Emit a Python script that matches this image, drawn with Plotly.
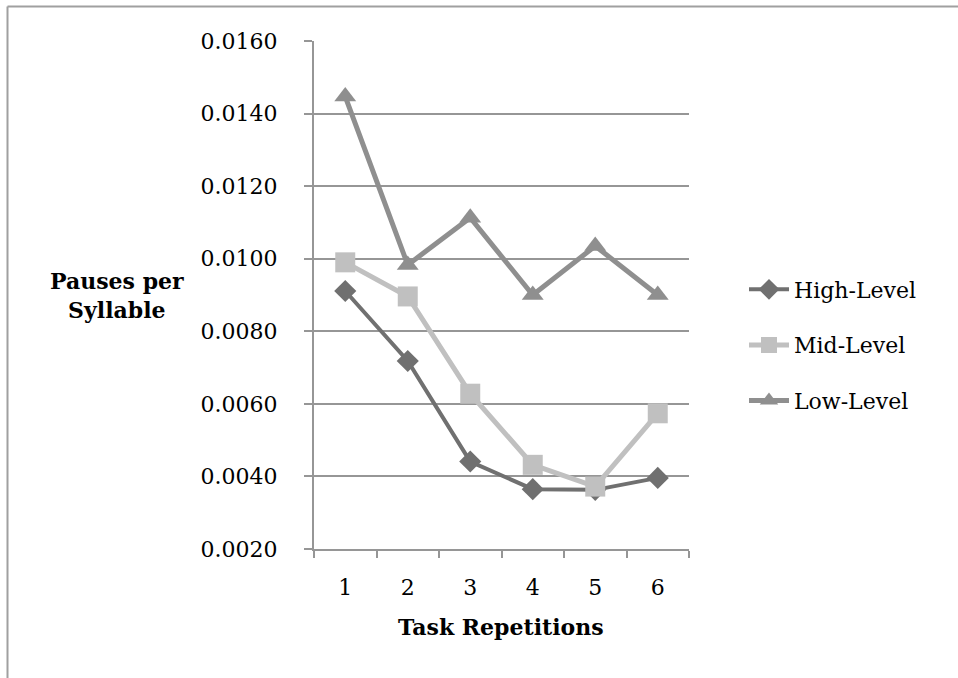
import plotly.graph_objects as go

# Task repetition categories and pause rates per proficiency group
repetitions = ["1", "2", "3", "4", "5", "6"]
high_level = [0.00911, 0.00718, 0.00441, 0.00365, 0.00363, 0.00396]
mid_level = [0.00990, 0.00896, 0.00628, 0.00432, 0.00372, 0.00574]
low_level = [0.01447, 0.00983, 0.01113, 0.00900, 0.01035, 0.00900]
y_ticks = [0.002, 0.004, 0.006, 0.008, 0.010, 0.012, 0.014, 0.016]

W, H = 958, 678
FONT = "DejaVu Serif"

# plot area in pixels
px_left, px_right, px_top, px_bottom = 314, 689, 41, 549

fig = go.Figure()

series = [
    ("High-Level", high_level, "#707070", "diamond", 17, 4),
    ("Mid-Level", mid_level, "#c0c0c0", "square", 20, 5),
    ("Low-Level", low_level, "#8f8f8f", "triangle-up", 19, 5),
]
for name, vals, color, symbol, msize, lw in series:
    fig.add_trace(go.Scatter(
        x=repetitions, y=vals, name=name, mode="lines+markers",
        line=dict(color=color, width=lw),
        marker=dict(symbol=symbol, size=msize, color=color, line=dict(width=0)),
        legendgroup=name,
    ))

fig.update_layout(
    width=W, height=H,
    autosize=False,
    margin=dict(l=0, r=0, t=0, b=0, pad=0),
    paper_bgcolor="white", plot_bgcolor="white",
    font=dict(family=FONT, size=22, color="black"),
    showlegend=True,
    legend=dict(
        x=744 / W, y=1 - 345 / H, xanchor="left", yanchor="middle",
        font=dict(family=FONT, size=22, color="black"),
        tracegroupgap=24, itemwidth=40,
        bgcolor="rgba(0,0,0,0)",
    ),
    xaxis=dict(
        type="category",
        domain=[px_left / W, px_right / W],
        automargin=False,
        showline=True, linecolor="#969696", linewidth=2,
        ticks="outside", tickson="boundaries", ticklen=7,
        tickcolor="#969696", tickwidth=2,
        showgrid=False, zeroline=False,
        ticklabelstandoff=18,
        tickfont=dict(family=FONT, size=22),
    ),
    yaxis=dict(
        domain=[1 - px_bottom / H, 1 - px_top / H],
        automargin=False,
        range=[0.002, 0.016],
        tickvals=y_ticks, tickformat=".4f",
        showline=True, linecolor="#969696", linewidth=2,
        ticks="outside", ticklen=8, tickcolor="#969696", tickwidth=2,
        showgrid=True, gridcolor="#969696", gridwidth=2,
        zeroline=False,
        ticklabelstandoff=22,
        tickfont=dict(family=FONT, size=22),
    ),
    annotations=[
        dict(text="<b>Pauses per<br>Syllable</b>", x=117 / W, y=1 - 296 / H,
             xref="paper", yref="paper", xanchor="center", yanchor="middle",
             showarrow=False, font=dict(family=FONT, size=22), align="center"),
        dict(text="<b>Task Repetitions</b>", x=501 / W, y=1 - 627 / H,
             xref="paper", yref="paper", xanchor="center", yanchor="middle",
             showarrow=False, font=dict(family=FONT, size=22)),
    ],
    shapes=[
        dict(type="line", xref="paper", yref="paper",
             x0=7.5 / W, x1=7.5 / W, y0=0, y1=1 - 6.5 / H,
             line=dict(color="#a0a0a0", width=2)),
        dict(type="line", xref="paper", yref="paper",
             x0=7.5 / W, x1=1, y0=1 - 6.5 / H, y1=1 - 6.5 / H,
             line=dict(color="#a0a0a0", width=2)),
    ],
)

fig.write_html("out.html")
